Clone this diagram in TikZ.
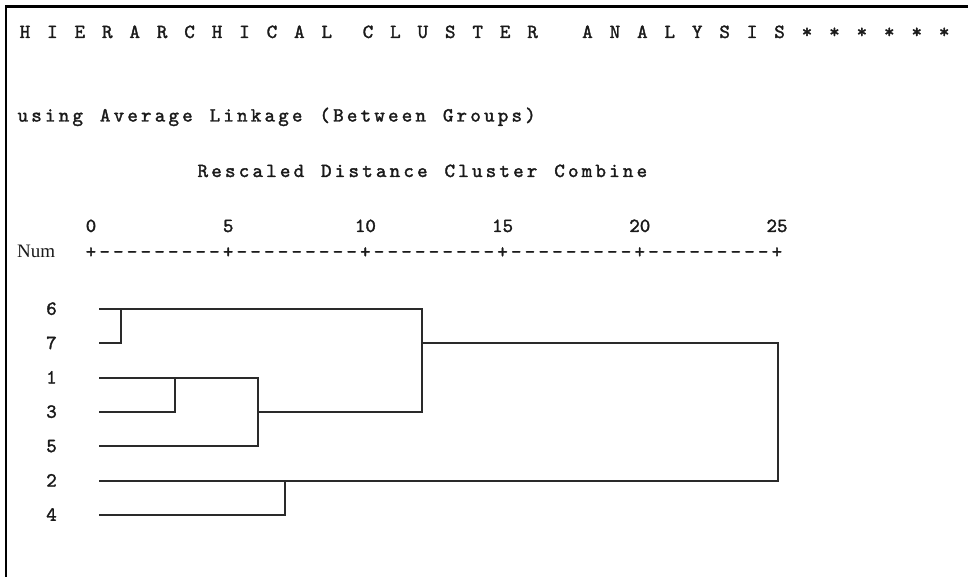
\documentclass[tikz,border=0pt]{standalone}
\usepackage{fontspec}
\newfontfamily\numfont{Liberation Serif}
\newfontfamily\cour{lmmono10-regular.otf}[FakeBold=1.7]
\newlength\cw \setlength\cw{13.72pt}
\def\mm#1{\ifx#1\relax\else\makebox[\cw][c]{#1}\expandafter\mm\fi}
\definecolor{ink}{HTML}{1A1A1A}
\definecolor{wire}{HTML}{2A2A2A}
\tikzset{
  txt/.style={inner sep=0pt, outer sep=0pt, text=ink, font=\cour\fontsize{20}{22}\selectfont},
  tick/.style={txt, anchor=base},
  leaf/.style={txt, anchor=base},
  branch/.style={draw=wire, line width=1.8pt, line cap=rect},
  frame/.style={draw=black, line width=2.2pt}
}
\begin{document}
\begin{tikzpicture}[x=1pt,y=-1pt]
\useasboundingbox (0,0) rectangle (968,577);
\fill[white] (0,0) rectangle (968,577);
\draw[frame] (6,577) -- (6,6.5) -- (968,6.5);

\node[txt, anchor=base west] (title) at (18.1,38) {\mm H~I~E~R~A~R~C~H~I~C~A~L~~C~L~U~S~T~E~R~~~A~N~A~L~Y~S~I~S~*~*~*~*~*~*\relax};
\node[txt, anchor=base west] (method) at (16,121.5) {\mm using~Average~Linkage~(Between~Groups)\relax};
\node[txt, anchor=base west] (scale) at (196,177) {\mm Rescaled~Distance~Cluster~Combine\relax};

\node[tick] (t0) at (91,232) {0};
\node[tick] (t5) at (228.2,232) {5};
\node[tick] (t10) at (365.4,232) {10};
\node[tick] (t15) at (502.6,232) {15};
\node[tick] (t20) at (639.8,232) {20};
\node[tick] (t25) at (777,232) {25};

\node[inner sep=0pt, text=ink, font=\numfont\fontsize{19}{20}\selectfont, anchor=base west] (num) at (17,258) {Num};
\node[txt, anchor=base west] (axis) at (84.1,258) {\mm +---------+---------+---------+---------+---------+\relax};

\node[leaf] (n6) at (51.5,314.8) {6};
\node[leaf] (n7) at (51.5,349.1) {7};
\node[leaf] (n1) at (51.5,383.5) {1};
\node[leaf] (n3) at (51.5,417.8) {3};
\node[leaf] (n5) at (51.5,452.1) {5};
\node[leaf] (n2) at (51.5,486.5) {2};
\node[leaf] (n4) at (51.5,520.8) {4};

\coordinate (l6) at (100,309);
\coordinate (l7) at (100,343);
\coordinate (l1) at (100,378);
\coordinate (l3) at (100,412);
\coordinate (l5) at (100,446);
\coordinate (l2) at (100,481);
\coordinate (l4) at (100,515);

\coordinate (j67) at (121,309);
\coordinate (j13) at (175,378);
\coordinate (j135) at (258,378);
\coordinate (j135o) at (258,412);
\coordinate (jtop) at (422,309);
\coordinate (jtopo) at (422,343);
\coordinate (jall) at (778,343);
\coordinate (j24) at (285,481);

\draw[branch] (l6) -- (jtop);
\draw[branch] (l7) -| (j67);
\draw[branch] (l1) -- (j135);
\draw[branch] (l3) -| (j13);
\draw[branch] (l5) -| (j135);
\draw[branch] (j135o) -| (jtop);
\draw[branch] (jtopo) -- (jall);
\draw[branch] (l2) -| (jall);
\draw[branch] (l4) -| (j24);
\end{tikzpicture}
\end{document}
